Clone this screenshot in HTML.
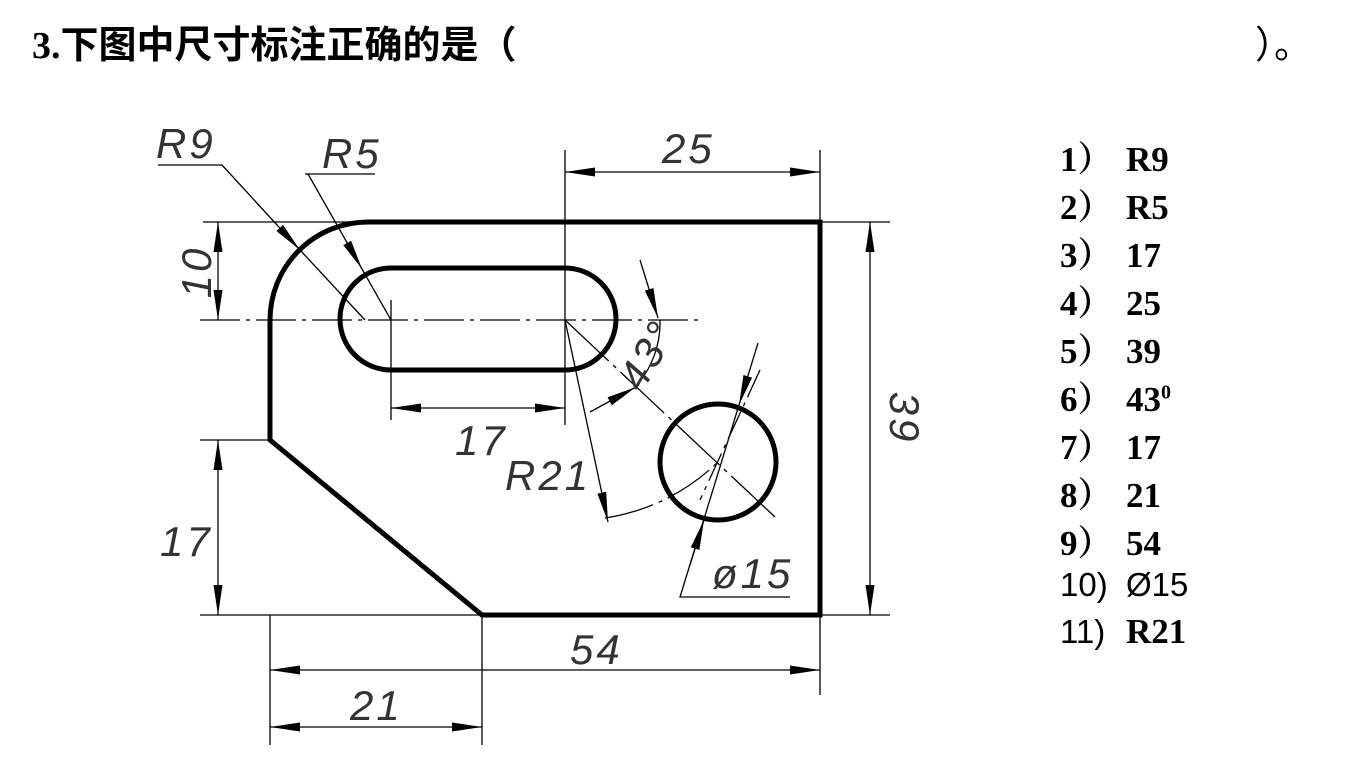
<!DOCTYPE html>
<html><head><meta charset="utf-8"><style>
body{margin:0;background:#fff;width:1350px;height:773px;overflow:hidden;position:relative;font-family:"Liberation Serif","Noto Serif CJK SC",serif}
.t{position:absolute;left:32px;top:14px;font-size:38px;color:#000;white-space:nowrap;font-weight:bold}
.e{position:absolute;left:1255px;top:14px;font-size:38px}
.l{position:absolute;left:1060px;font-size:35px;font-weight:bold;white-space:nowrap}
.l span{display:inline-block;width:66px}
.n{font-family:"Liberation Sans","Noto Sans CJK SC",sans-serif;font-weight:normal;font-size:33px}
</style></head><body>
<div class="t">3.<span style="font-family:'Noto Sans CJK SC',sans-serif;letter-spacing:0px;font-weight:bold">下图中尺寸标注正确的是（</span></div>
<div class="e" style="font-family:'Noto Sans CJK SC',sans-serif">）。</div>
<div class="l" style="top:132px"><span>1）</span>R9</div>
<div class="l" style="top:180px"><span>2）</span>R5</div>
<div class="l" style="top:228px"><span>3）</span>17</div>
<div class="l" style="top:276px"><span>4）</span>25</div>
<div class="l" style="top:324px"><span>5）</span>39</div>
<div class="l" style="top:372px"><span>6）</span>43<sup style="font-size:20px">0</sup></div>
<div class="l" style="top:420px"><span>7）</span>17</div>
<div class="l" style="top:468px"><span>8）</span>21</div>
<div class="l" style="top:516px"><span>9）</span>54</div>
<div class="l n" style="top:566px"><span>10)</span>Ø15</div>
<div class="l" style="top:612px"><span class="n">11)</span>R21</div>
<svg width="1350" height="773" style="position:absolute;left:0;top:0">
<defs><marker id="a" viewBox="0 0 30 10" refX="30" refY="5" markerWidth="30" markerHeight="10" markerUnits="userSpaceOnUse" orient="auto-start-reverse"><path d="M0,0.5L30,5L0,9.5z" fill="#000"/></marker></defs>
<g fill="none" stroke="#000" stroke-width="5">
<path d="M368,222H820V615H482L270,440V320A98,98 0 0 1 368,222Z"/>
<path d="M391,268H565A51,51 0 0 1 565,370H391A51,51 0 0 1 391,268Z"/>
<circle cx="718" cy="462" r="58"/>
</g>
<g fill="none" stroke="#000" stroke-width="1.3">
<path d="M200,320H700" stroke-dasharray="40,6,4,6"/>
<path d="M565,150V425M391,300V420M203,222H365M820,150V222M820,222H890M820,615H890M200,440H270M200,615H482M270,615V745M820,615V695M482,615V745"/>
<path d="M565,320L775,517" stroke-dasharray="60,6,4,6"/>
<path d="M760,370L700,500" stroke-dasharray="30,6,4,6"/>
<path d="M158,165H222M300,250L365,320M305,174H375M362,269L391,320"/>
<path d="M739,405L680,597H790"/>
<path d="M605,518A206,206 0 0 0 718,462" stroke-dasharray="50,6,4,6"/>
<path d="M660,320A95,95 0 0 1 636,386"/>
</g>
<g stroke="#000" stroke-width="1.3" fill="none">
<line x1="565" y1="172" x2="820" y2="172" marker-start="url(#a)" marker-end="url(#a)"/>
<line x1="870" y1="222" x2="870" y2="615" marker-start="url(#a)" marker-end="url(#a)"/>
<line x1="218" y1="222" x2="218" y2="320" marker-start="url(#a)" marker-end="url(#a)"/>
<line x1="218" y1="440" x2="218" y2="615" marker-start="url(#a)" marker-end="url(#a)"/>
<line x1="270" y1="670" x2="820" y2="670" marker-start="url(#a)" marker-end="url(#a)"/>
<line x1="270" y1="727" x2="482" y2="727" marker-start="url(#a)" marker-end="url(#a)"/>
<line x1="391" y1="408" x2="565" y2="408" marker-start="url(#a)" marker-end="url(#a)"/>
<line x1="222" y1="165" x2="300" y2="250" marker-end="url(#a)"/>
<line x1="308" y1="174" x2="362" y2="269" marker-end="url(#a)"/>
<line x1="565" y1="320" x2="608" y2="522" marker-end="url(#a)"/>
<line x1="640" y1="260" x2="658" y2="318" marker-end="url(#a)"/>
<line x1="590" y1="412" x2="636" y2="387" marker-end="url(#a)"/>
<line x1="758" y1="343" x2="739" y2="405" marker-end="url(#a)"/>
<line x1="690" y1="565" x2="704" y2="520" marker-end="url(#a)"/>
</g>
<g font-family="Liberation Sans,sans-serif" font-style="italic" font-size="42" fill="#333" style="letter-spacing:3px">
<text x="156" y="158">R9</text>
<text x="322" y="168">R5</text>
<text x="662" y="163">25</text>
<text x="455" y="455">17</text>
<text x="505" y="490">R21</text>
<text x="160" y="556">17</text>
<text x="570" y="664">54</text>
<text x="350" y="720">21</text>
<text x="712" y="588">ø15</text>
<text transform="translate(211,272) rotate(-90)" text-anchor="middle">10</text>
<text transform="translate(890,418) rotate(90)" text-anchor="middle">39</text>
<text transform="translate(660,362) rotate(-60)" text-anchor="middle">43°</text>
</g>
</svg>
</body></html>
